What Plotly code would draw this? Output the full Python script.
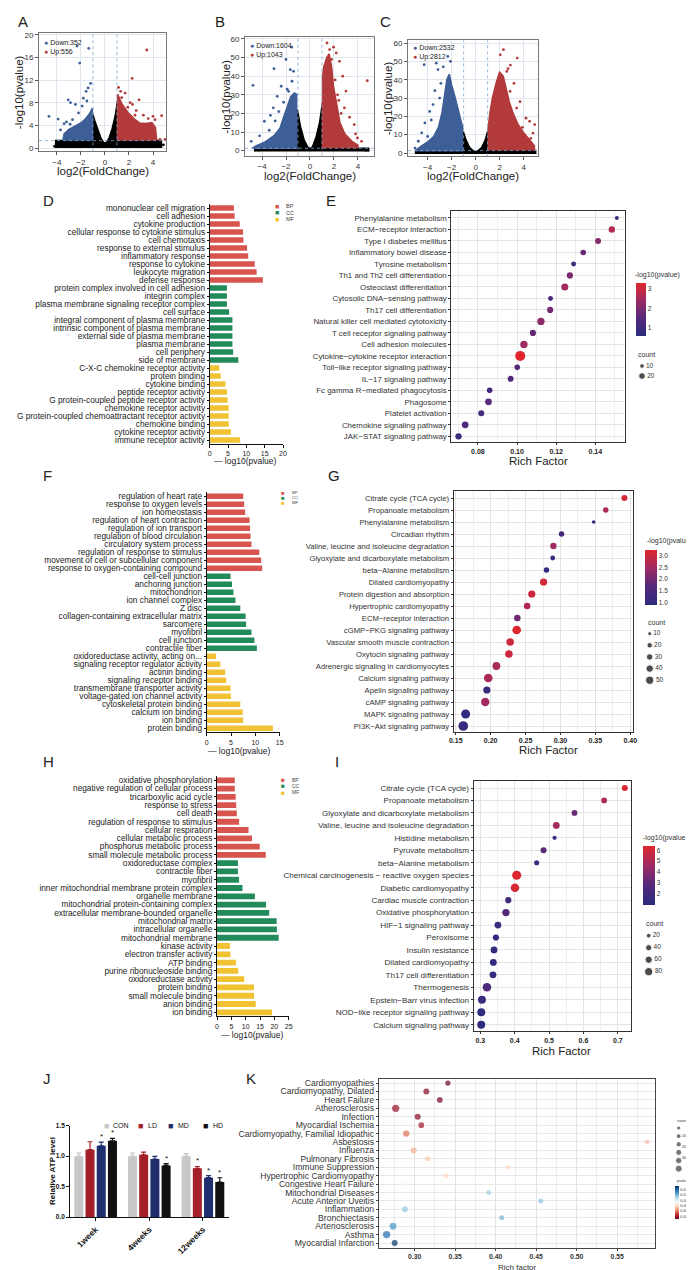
import plotly.graph_objects as go

W, H = 694, 1270
FONT = "Liberation Sans, Arial, Helvetica, sans-serif"
NARROW = "Liberation Sans Narrow, Liberation Sans, Arial, sans-serif"

# ======================= DATA =======================
FC_CUT = 1.0          # |log2FC| threshold
P_CUT_LOG = 1.3       # -log10(0.05)

# ---- Volcano A ----
A_counts = [352, 556]
A_ns_x = [-4.1, -4.1, -1.05, -1.05, -0.85, -0.6, -0.35, -0.1, 0.1, 0.35, 0.6, 0.85, 1.05, 1.05, 4.7, 4.7]
A_ns_y = [0.0, 1.3, 1.3, 6.2, 4.8, 3.2, 1.8, 0.9, 0.9, 1.8, 3.4, 5.6, 8.4, 1.3, 1.3, 0.0]
A_dn_x = [-1.05, -1.05, -1.3, -1.6, -2.0, -2.5, -3.0, -3.4, -3.5]
A_dn_y = [1.3, 7.0, 6.0, 5.2, 4.4, 3.8, 3.3, 2.5, 1.3]
A_up_x = [1.05, 1.05, 1.4, 1.9, 2.4, 2.9, 3.4, 3.9, 4.2, 4.3]
A_up_y = [1.3, 9.5, 7.8, 6.3, 5.2, 4.4, 4.3, 4.5, 3.6, 1.3]
A_pd_x = [-2.32, -1.35, -2.1, -1.2, -1.4, -3.06, -2.87, -4.66, -3.9, -1.57, -2.46, -1.8, -2.2, -3.4,
          -2.7, -3.2, -1.9, -1.5, -3.7, -2.9]
A_pd_y = [18.0, 17.6, 15.0, 11.4, 10.6, 8.5, 8.0, 5.6, 5.1, 10.0, 7.7, 8.8, 6.2, 4.3,
          5.0, 4.6, 7.4, 8.3, 3.2, 4.2]
A_pu_x = [3.48, 2.26, 1.13, 2.84, 2.29, 4.72, 4.17, 4.58, 5.0, 1.68, 1.4, 1.9, 3.2, 2.6,
          3.6, 4.0, 2.1, 1.3, 3.9, 2.5]
A_pu_y = [17.3, 12.3, 10.7, 8.5, 7.7, 5.7, 5.0, 1.5, 1.5, 9.7, 8.9, 7.2, 5.8, 6.6,
          5.2, 5.6, 8.0, 10.0, 3.8, 5.8]
A_pn_x = [4.66, 4.86, -3.9, -4.2]
A_pn_y = [0.57, 0.57, 0.57, 0.3]

# ---- Volcano B ----
B_counts = [1604, 1043]
B_ns_x = [-4.6, -4.6, -1.05, -1.05, -0.8, -0.5, -0.2, 0.0, 0.2, 0.5, 0.8, 1.0, 1.05, 1.05, 4.9, 4.9]
B_ns_y = [-0.5, 1.3, 1.3, 22.0, 13.0, 6.0, 2.0, 1.0, 2.0, 7.0, 15.0, 26.0, 26.0, 1.3, 1.3, -0.5]
B_dn_x = [-1.05, -4.8, -4.5, -3.8, -3.0, -2.5, -2.2, -1.9, -1.6, -1.3, -1.05]
B_dn_y = [1.3, 1.3, 2.5, 4.5, 8.0, 12.0, 18.0, 24.0, 29.0, 31.0, 30.0]
B_up_x = [1.05, 1.05, 1.15, 1.4, 1.6, 1.8, 1.95, 2.2, 2.5, 2.9, 3.5, 4.0, 4.0]
B_up_y = [1.3, 40.0, 45.0, 50.0, 52.0, 45.0, 35.0, 25.0, 15.0, 9.0, 5.0, 3.0, 1.3]
B_pd_x = [-4.75, -1.53, -3.0, -2.0, -1.64, -1.37, -2.4, -2.73, -3.06, -4.9, -3.8, -1.5, -1.78, -3.4,
          -2.9, -2.2, -3.3, -4.2, -2.6, -1.9]
B_pd_y = [35.1, 55.6, 44.0, 49.0, 43.5, 42.6, 34.6, 29.2, 23.0, 5.0, 15.8, 37.3, 31.9, 11.0,
          16.0, 26.0, 19.0, 8.0, 21.0, 33.0]
B_pu_x = [1.42, 1.97, 2.19, 1.64, 2.46, 2.73, 2.87, 3.69, 4.78, 3.96, 3.0, 2.3, 3.3,
          2.6, 2.1, 3.8, 4.3, 2.4, 1.8]
B_pu_y = [57.9, 55.6, 52.5, 54.3, 48.0, 40.0, 23.0, 14.0, 37.6, 6.8, 32.0, 30.0, 18.0,
          20.0, 38.0, 9.0, 5.0, 27.0, 49.0]
B_pn_x = [4.5, 4.7, -4.3]
B_pn_y = [0.5, 0.2, 0.3]

# ---- Volcano C ----
C_counts = [2532, 2812]
C_ns_x = [-5.0, -5.0, -1.05, -1.05, -0.8, -0.5, -0.2, 0.0, 0.2, 0.5, 0.8, 1.05, 1.05, 5.0, 5.0]
C_ns_y = [-0.5, 1.3, 1.3, 12.0, 7.0, 3.0, 1.2, 0.8, 1.2, 3.0, 7.0, 13.0, 1.3, 1.3, -0.5]
C_dn_x = [-1.05, -5.0, -4.6, -4.0, -3.5, -3.1, -2.8, -2.6, -2.4, -2.2, -2.0, -1.7, -1.4, -1.2, -1.05]
C_dn_y = [1.3, 1.3, 3.5, 6.0, 9.0, 14.0, 22.0, 32.0, 40.0, 43.0, 37.0, 30.0, 22.0, 16.0, 13.0]
C_up_x = [1.05, 1.05, 1.2, 1.4, 1.7, 2.0, 2.3, 2.5, 2.8, 3.1, 3.5, 4.0, 4.5, 4.9, 4.9]
C_up_y = [1.3, 14.0, 22.0, 30.0, 38.0, 44.0, 42.0, 36.0, 28.0, 22.0, 16.0, 11.0, 7.0, 4.0, 1.3]
C_pd_x = [-2.32, -3.28, -4.29, -3.14, -4.23, -3.55, -3.83, -4.78, -5.05, -3.0, -2.7, -2.1,
          -3.4, -4.5, -3.7, -2.9, -4.0]
C_pd_y = [52.7, 49.0, 48.2, 45.5, 16.4, 26.4, 22.7, 6.4, 2.7, 30.0, 47.0, 50.0,
          34.0, 11.0, 18.0, 38.0, 9.0]
C_pu_x = [2.32, 2.05, 3.47, 2.6, 2.87, 3.42, 4.5, 4.92, 4.78, 3.96, 2.9, 3.7,
          3.2, 4.2, 2.7, 3.9, 4.6]
C_pu_y = [56.4, 53.6, 51.8, 44.5, 33.6, 24.5, 17.3, 15.5, 10.9, 10.0, 48.0, 28.0,
          38.0, 19.0, 46.0, 14.0, 8.0]

# ---- GO bars D ----
D_bp = ["mononuclear cell migration", "cell adhesion", "cytokine production",
        "cellular response to cytokine stimulus", "cell chemotaxis", "response to external stimulus",
        "inflammatory response", "response to cytokine", "leukocyte migration", "defense response"]
D_bp_v = [6.6, 6.8, 8.2, 9.1, 9.2, 10.2, 10.5, 12.3, 12.8, 14.5]
D_cc = ["protein complex involved in cell adhesion", "integrin complex",
        "plasma membrane signaling receptor complex", "cell surface",
        "integral component of plasma membrane", "intrinsic component of plasma membrane",
        "external side of plasma membrane", "plasma membrane", "cell periphery", "side of membrane"]
D_cc_v = [4.7, 4.7, 4.7, 5.3, 6.2, 6.2, 6.2, 6.2, 6.4, 7.8]
D_mf = ["C-X-C chemokine receptor activity", "protein binding", "cytokine binding",
        "peptide receptor activity", "G protein-coupled peptide receptor activity",
        "chemokine receptor activity", "G protein-coupled chemoattractant receptor activity",
        "chemokine binding", "cytokine receptor activity", "immune receptor activity"]
D_mf_v = [2.6, 3.0, 4.3, 4.7, 4.9, 5.2, 5.2, 5.2, 5.8, 8.3]

# ---- GO bars F ----
F_bp = ["regulation of heart rate", "response to oxygen levels", "ion homeostasis",
        "regulation of heart contraction", "regulation of ion transport",
        "regulation of blood circulation", "circulatory system process",
        "regulation of response to stimulus", "movement of cell or subcellular component",
        "response to oxygen-containing compound"]
F_bp_v = [7.5, 7.7, 7.9, 8.8, 8.9, 9.0, 9.2, 10.8, 11.2, 11.4]
F_cc = ["cell-cell junction", "anchoring junction", "mitochondrion", "ion channel complex", "Z disc",
        "collagen-containing extracellular matrix", "sarcomere", "myofibril", "cell junction",
        "contractile fiber"]
F_cc_v = [4.9, 5.2, 5.5, 5.9, 6.9, 8.0, 8.1, 9.2, 9.8, 10.3]
F_mf = ["oxidoreductase activity, acting on...", "signaling receptor regulator activity",
        "actinin binding", "signaling receptor binding", "transmembrane transporter activity",
        "voltage-gated ion channel activity", "cytoskeletal protein binding", "calcium ion binding",
        "ion binding", "protein binding"]
F_mf_v = [1.9, 2.8, 3.8, 4.0, 4.9, 5.0, 6.9, 7.4, 7.5, 13.6]

# ---- GO bars H ----
H_bp = ["oxidative phosphorylation", "negative regulation of cellular process",
        "tricarboxylic acid cycle", "response to stress", "cell death",
        "regulation of response to stimulus", "cellular respiration", "cellular metabolic process",
        "phosphorus metabolic process", "small molecule metabolic process"]
H_bp_v = [6.2, 6.2, 6.5, 6.7, 6.9, 7.7, 11.0, 12.2, 14.9, 17.0]
H_cc = ["oxidoreductase complex", "contractile fiber", "myofibril",
        "inner mitochondrial membrane protein complex", "organelle membrane",
        "mitochondrial protein-containing complex", "extracellular membrane-bounded organelle",
        "mitochondrial matrix", "intracellular organelle", "mitochondrial membrane"]
H_cc_v = [7.3, 7.3, 7.7, 8.9, 13.2, 17.1, 18.2, 20.8, 20.9, 21.5]
H_mf = ["kinase activity", "electron transfer activity", "ATP binding", "purine ribonucleoside binding",
        "oxidoreductase activity", "protein binding", "small molecule binding", "anion binding",
        "ion binding"]
H_mf_v = [4.5, 4.7, 6.6, 7.4, 9.5, 12.9, 12.9, 13.5, 19.2]

# ---- KEGG bubbles E ----
E_terms = ["Phenylalanine metabolism", "ECM−receptor interaction", "Type I diabetes mellitus",
           "Inflammatory bowel disease", "Tyrosine metabolism", "Th1 and Th2 cell differentiation",
           "Osteoclast differentiation", "Cytosolic DNA−sensing pathway", "Th17 cell differentiation",
           "Natural killer cell mediated cytotoxicity", "T cell receptor signaling pathway",
           "Cell adhesion molecules", "Cytokine−cytokine receptor interaction",
           "Toll−like receptor signaling pathway", "IL−17 signaling pathway",
           "Fc gamma R−mediated phagocytosis", "Phagosome", "Platelet activation",
           "Chemokine signaling pathway", "JAK−STAT signaling pathway"]
E_rich = [0.151, 0.1484, 0.1414, 0.1338, 0.1289, 0.127, 0.1244, 0.1171, 0.1169, 0.1122,
          0.1081, 0.1035, 0.1016, 0.1001, 0.0967, 0.086, 0.0854, 0.0817, 0.0735, 0.0701]
E_count = [7, 18, 16, 14, 11, 17, 22, 11, 17, 24, 17, 24, 44, 14, 16, 14, 20, 16, 20, 18]
E_logp = [0.9, 2.7, 2.1, 1.7, 1.1, 2.0, 2.5, 1.3, 1.9, 2.2, 1.7, 2.4, 3.3, 1.5, 1.4, 1.1, 1.6, 1.1, 1.4, 1.0]
E_leg = [10, 20]

# ---- KEGG bubbles G ----
G_terms = ["Citrate cycle (TCA cycle)", "Propanoate metabolism", "Phenylalanine metabolism",
           "Circadian rhythm", "Valine, leucine and isoleucine degradation",
           "Glyoxylate and dicarboxylate metabolism", "beta−Alanine metabolism",
           "Dilated cardiomyopathy", "Protein digestion and absorption", "Hypertrophic cardiomyopathy",
           "ECM−receptor interaction", "cGMP−PKG signaling pathway", "Vascular smooth muscle contraction",
           "Oxytocin signaling pathway", "Adrenergic signaling in cardiomyocytes",
           "Calcium signaling pathway", "Apelin signaling pathway", "cAMP signaling pathway",
           "MAPK signaling pathway", "PI3K−Akt signaling pathway"]
G_rich = [0.3917, 0.365, 0.3476, 0.3016, 0.2899, 0.2889, 0.28, 0.2758, 0.2589, 0.2523,
          0.2382, 0.2373, 0.2279, 0.2261, 0.2082, 0.1965, 0.1945, 0.1922, 0.1641, 0.1607]
G_count = [25, 20, 8, 20, 28, 15, 20, 37, 37, 30, 30, 55, 40, 40, 44, 55, 37, 51, 59, 68]
G_logp = [3.1, 2.6, 1.0, 1.4, 2.5, 1.1, 1.05, 3.1, 3.0, 2.7, 2.0, 3.2, 3.0, 3.0, 2.6, 2.6, 1.2, 2.5, 1.0, 1.1]
G_leg = [10, 20, 30, 40, 50]

# ---- KEGG bubbles I ----
I_terms = ["Citrate cycle (TCA cycle)", "Propanoate metabolism", "Glyoxylate and dicarboxylate metabolism",
           "Valine, leucine and isoleucine degradation", "Histidine metabolism", "Pyruvate metabolism",
           "beta−Alanine metabolism", "Chemical carcinogenesis − reactive oxygen species",
           "Diabetic cardiomyopathy", "Cardiac muscle contraction", "Oxidative phosphorylation",
           "HIF−1 signaling pathway", "Peroxisome", "Insulin resistance", "Dilated cardiomyopathy",
           "Th17 cell differentiation", "Thermogenesis", "Epstein−Barr virus infection",
           "NOD−like receptor signaling pathway", "Calcium signaling pathway"]
I_rich = [0.72, 0.66, 0.574, 0.521, 0.516, 0.484, 0.464, 0.406, 0.401, 0.3815,
          0.3747, 0.3514, 0.3456, 0.34, 0.338, 0.337, 0.3195, 0.305, 0.303, 0.303]
I_count = [37, 33, 33, 50, 16, 37, 25, 99, 85, 40, 61, 50, 40, 50, 50, 50, 85, 73, 73, 73]
I_logp = [6.2, 5.0, 3.3, 4.7, 1.8, 3.0, 1.7, 6.3, 6.1, 1.8, 2.8, 1.6, 1.4, 1.3, 1.3, 1.3, 2.5, 1.6, 1.2, 1.1]
I_leg = [20, 40, 60, 80]

# ---- J ATP ----
J_groups = ["1week", "4weeks", "12weeks"]
J_names = ["CON", "LD", "MD", "HD"]
J_vals = {"CON": [1.0, 1.0, 1.0], "LD": [1.106, 1.023, 0.80],
          "MD": [1.171, 0.952, 0.646], "HD": [1.253, 0.848, 0.575]}
J_err = {"CON": [0.05, 0.05, 0.04], "LD": [0.13, 0.044, 0.03],
         "MD": [0.06, 0.044, 0.035], "HD": [0.04, 0.03, 0.07]}
J_sig = {"CON": [0, 0, 0], "LD": [0, 0, 1], "MD": [1, 0, 1], "HD": [1, 1, 1]}

# ---- K disease enrichment ----
K_terms = ["Cardiomyopathies", "Cardiomyopathy, Dilated", "Heart Failure", "Atherosclerosis", "Infection",
           "Myocardial Ischemia", "Cardiomyopathy, Familial Idiopathic", "Asbestosis", "Influenza",
           "Pulmonary Fibrosis", "Immune Suppression", "Hypertrophic Cardiomyopathy",
           "Congestive Heart Failure", "Mitochondrial Diseases", "Acute Anterior Uveitis",
           "Inflammation", "Bronchiectasis", "Arteriosclerosis", "Asthma", "Myocardial Infarction"]
K_rich = [0.341, 0.3144, 0.331, 0.2766, 0.3037, 0.3082, 0.2896, 0.5868, 0.2988, 0.316,
          0.4148, 0.3382, 0.286, 0.3913, 0.4556, 0.288, 0.4074, 0.2732, 0.2654, 0.2753]
K_count = [100, 164, 135, 324, 164, 135, 196, 58, 164, 100, 58, 77, 135, 77, 77, 164, 77, 243, 324, 164]
K_p = [0.0012, 0.0016, 0.0014, 0.0019, 0.0016, 0.0021, 0.0038, 0.0054, 0.0051, 0.0057,
       0.0059, 0.0060, 0.0073, 0.0094, 0.0098, 0.0097, 0.0102, 0.0110, 0.0121, 0.0134]
K_leg = [25, 60, 100, 150, 200, 280]
K_leg_lab = ["100", "200", "300"]
K_leg_lab_pos = [1.0, 2.37, 3.68]

# ======================= STYLE / HELPERS =======================
C_BLUE, C_RED = "#3D5E96", "#B23A3A"
GO_COL = {"BP": "#D8544F", "CC": "#238A5C", "MF": "#F1C232"}
J_COL = {"CON": "#C8C8C8", "LD": "#A3202A", "MD": "#1F2F6E", "HD": "#111111"}
BUB_SCALE = [[0, "#2B2C7F"], [0.35, "#56297A"], [0.65, "#9A2A66"], [1, "#E0262D"]]
RDBU = ["#67001F", "#B2182B", "#D6604D", "#F4A582", "#FDDBC7", "#F7F7F7",
        "#D1E5F0", "#92C5DE", "#4393C3", "#2166AC", "#053061"]
K_SCALE = [[i / 10, c] for i, c in enumerate(RDBU)]


def xdom(a, b):
    return [a / W, b / W]


def ydom(top, bottom):
    return [1 - bottom / H, 1 - top / H]


def axref(i):
    return ("x" if i == 1 else f"x{i}"), ("y" if i == 1 else f"y{i}")


fig = go.Figure()
layout = dict(width=W, height=H, template="none",
              margin=dict(l=0, r=0, t=0, b=0, autoexpand=False),
              paper_bgcolor="white", plot_bgcolor="white", showlegend=False,
              barmode="group", bargap=0.164, bargroupgap=0.196,
              font=dict(family=FONT, size=8, color="#222"))
annotations = []
shapes = []


def add_axes(i, xa, ya):
    xr, yr = axref(i)
    xa = dict(xa, anchor=yr, automargin=False)
    ya = dict(ya, anchor=xr, automargin=False)
    layout["xaxis" if i == 1 else f"xaxis{i}"] = xa
    layout["yaxis" if i == 1 else f"yaxis{i}"] = ya


def ann(text, x, y, size=8, color="#222", xanchor="center", yanchor="middle",
        angle=0, weight="normal", family=FONT):
    annotations.append(dict(text=text, x=x / W, y=1 - y / H, xref="paper", yref="paper",
                            showarrow=False, xanchor=xanchor, yanchor=yanchor, textangle=angle,
                            font=dict(size=size, color=color, family=family, weight=weight)))


# ======================= VOLCANOS =======================
def volcano(i, box, xr, yr, ytick, lab_xy, counts, ns, dn, up, pd, pu, pn, leg_y):
    xa, ya = axref(i)
    for (px, py), col in ((ns, "#000000"), (dn, C_BLUE), (up, C_RED)):
        fig.add_trace(go.Scatter(x=px, y=py, mode="lines", fill="toself", fillcolor=col,
                                 line=dict(color=col, width=1.6), hoverinfo="skip",
                                 xaxis=xa, yaxis=ya))
    for (px, py), col in ((pn, "#000000"), (pd, C_BLUE), (pu, C_RED)):
        fig.add_trace(go.Scatter(x=px, y=py, mode="markers", marker=dict(size=2.8, color=col),
                                 hoverinfo="skip", xaxis=xa, yaxis=ya))
    l, r, t, b = box
    common = dict(showline=True, mirror=True, linecolor="#777", linewidth=1, ticks="outside",
                  ticklen=3, tickcolor="#555", showgrid=True, gridcolor="#E1E6EE", gridwidth=0.8,
                  zeroline=False, tickfont=dict(size=8, family=NARROW, color="#333"))
    add_axes(i, dict(common, domain=xdom(l, r), range=xr, tickvals=[-4, -2, 0, 2, 4]),
             dict(common, domain=ydom(t, b), range=yr, tickvals=ytick))
    for xv in (-FC_CUT, FC_CUT):
        shapes.append(dict(type="line", xref=xa, yref=f"{ya} domain", x0=xv, x1=xv, y0=0, y1=1,
                           line=dict(color="#7FA6CF", width=0.8, dash="dot"), layer="above"))
    shapes.append(dict(type="line", xref=f"{xa} domain", yref=ya, x0=0, x1=1, y0=P_CUT_LOG,
                       y1=P_CUT_LOG, line=dict(color="#7FA6CF", width=0.8, dash="dot"), layer="above"))
    ann(lab_xy[0], lab_xy[1], lab_xy[2], size=15, xanchor="left")
    ann("-log10(pvalue)", l - 20, (t + b) / 2, size=11.5, angle=-90, family=NARROW)
    ann("log2(FoldChange)", (l + r) / 2, b + 20, size=11.5, family=NARROW)
    ann(f"<span style='color:{C_BLUE}'>●</span> Down:{counts[0]}", l + 3, leg_y[0], size=7,
        xanchor="left", family=NARROW)
    ann(f"<span style='color:{C_RED}'>●</span> Up:{counts[1]}", l + 3, leg_y[1], size=7,
        xanchor="left", family=NARROW)


volcano(1, (31, 158, 25, 143.3), [-5.49, 5.08], [-0.58, 20.3], [0, 4, 8, 12, 16, 20],
        ("A", 8, 14), A_counts, (A_ns_x, A_ns_y), (A_dn_x, A_dn_y), (A_up_x, A_up_y),
        (A_pd_x, A_pd_y), (A_pu_x, A_pu_y), (A_pn_x, A_pn_y), (34.3, 44))
volcano(2, (237, 366, 29.3, 147.7), [-5.42, 5.34], [-2.7, 60.9], [0, 10, 20, 30, 40, 50, 60],
        ("B", 205, 14), B_counts, (B_ns_x, B_ns_y), (B_dn_x, B_dn_y), (B_up_x, B_up_y),
        (B_pd_x, B_pd_y), (B_pu_x, B_pu_y), (B_pn_x, B_pn_y), (37.7, 46.7))
volcano(3, (400, 530, 32.3, 148.3), [-5.64, 5.2], [-1.8, 61.5], [0, 10, 20, 30, 40, 50, 60],
        ("C", 370, 14), C_counts, (C_ns_x, C_ns_y), (C_dn_x, C_dn_y), (C_up_x, C_up_y),
        (C_pd_x, C_pd_y), (C_pu_x, C_pu_y), ([], []), (39, 48.7))


# ======================= GO BARS =======================
def go_bars(i, groups, xdomain, ytop, spacing, xrange, xticks, lab_xy, leg, title_xy):
    xa, ya = axref(i)
    labels, vals, cols = [], [], []
    for key, labs, vs in groups:
        labels += labs
        vals += vs
        cols += [GO_COL[key]] * len(labs)
    n = len(labels)
    fig.add_trace(go.Bar(x=vals, y=labels, orientation="h", marker=dict(color=cols, line=dict(width=0)),
                         width=0.7, xaxis=xa, yaxis=ya, hoverinfo="skip"))
    top = ytop - spacing / 2
    bottom = ytop + spacing * (n - 1) + spacing / 2
    add_axes(i,
             dict(domain=xdomain, range=xrange, tickvals=xticks, showline=True, linecolor="#111",
                  linewidth=1, ticks="outside", ticklen=3, tickcolor="#111", showgrid=False,
                  zeroline=False, tickfont=dict(size=7, color="#222")),
             dict(domain=ydom(top, bottom), type="category", categoryorder="array",
                  categoryarray=labels, tickmode="array", tickvals=labels, ticktext=labels,
                  range=[n - 0.5, -0.5], showline=True, linecolor="#111",
                  linewidth=1, ticks="outside", ticklen=2, tickcolor="#111", showgrid=False,
                  tickfont=dict(size=8.3, color="#222")))
    ann(lab_xy[0], lab_xy[1], lab_xy[2], size=15, xanchor="left")
    lx, ly, dy, fs = leg
    for k, key in enumerate(["BP", "CC", "MF"]):
        ann(f"<span style='color:{GO_COL[key]}'>■</span>", lx, ly + k * dy, size=fs + 1.5,
            xanchor="right")
        ann(key, lx + 2.5, ly + k * dy, size=fs, xanchor="left", color="#444")
    ann("— log10(pvalue)", title_xy[0], title_xy[1], size=8.5)


go_bars(4, [("BP", D_bp, D_bp_v), ("CC", D_cc, D_cc_v), ("MF", D_mf, D_mf_v)],
        xdom(201.7, 275), 200, 8.0, [0, 20], [0, 5, 10, 15, 20], ("D", 33, 192),
        (273, 198.3, 6.4, 5.5), (237, 453))
go_bars(6, [("BP", F_bp, F_bp_v), ("CC", F_cc, F_cc_v), ("MF", F_mf, F_mf_v)],
        xdom(198.7, 271.7), 488.3, 8.0, [0, 15], [0, 5, 10, 15], ("F", 33, 468),
        (279, 484.8, 4.9, 4.3), (231, 743))
go_bars(8, [("BP", H_bp, H_bp_v), ("CC", H_cc, H_cc_v), ("MF", H_mf, H_mf_v)],
        xdom(209, 280.7), 772.3, 8.286, [0, 25], [0, 5, 10, 15, 20, 25], ("H", 33, 753),
        (279, 771.7, 6.2, 5), (245, 1027))


# ======================= BUBBLES =======================
def bubble(i, terms, rich, count, cval, sizef, xdomain, box_tb, yrange, xrange, dtick, mdtick,
           tfmt, cscale, cmin, cmax, cb, leg_i, leg_vals, leg_dom, leg_range, leg_x,
           lab_xy, xtitle_xy, cbt_xy, cnt_xy, yfont=7.8, xfont=7):
    xa, ya = axref(i)
    fig.add_trace(go.Scatter(x=rich, y=terms, mode="markers", xaxis=xa, yaxis=ya, hoverinfo="skip",
                             marker=dict(size=[sizef(c) for c in count], color=cval, colorscale=cscale,
                                         cmin=cmin, cmax=cmax, showscale=True, colorbar=cb,
                                         line=dict(width=0), opacity=1)))
    add_axes(i,
             dict(domain=xdomain, range=xrange, tick0=0, dtick=dtick, tickformat=tfmt,
                  showline=True, mirror=True, linecolor="#333", linewidth=1, ticks="outside",
                  ticklen=2, tickcolor="#333", showgrid=True, gridcolor="#E4E4E4", gridwidth=1.3,
                  zeroline=False, tickfont=dict(size=xfont, color="#222", weight="bold"),
                  minor=dict(tick0=0, dtick=mdtick, showgrid=True, gridcolor="#EFEFEF", gridwidth=0.8)),
             dict(domain=ydom(*box_tb), type="category", categoryorder="array", categoryarray=terms,
                  tickmode="array", tickvals=terms, ticktext=terms,
                  range=yrange, showline=True, mirror=True, linecolor="#333", linewidth=1,
                  ticks="outside", ticklen=2, tickcolor="#333", showgrid=True, gridcolor="#E4E4E4",
                  gridwidth=1.3, tickfont=dict(size=yfont, color="#333")))
    # size legend
    lxa, lya = axref(leg_i)
    fig.add_trace(go.Scatter(x=[0] * len(leg_vals), y=leg_vals, mode="markers+text",
                             text=[str(v) for v in leg_vals], textposition="middle right",
                             textfont=dict(size=6.5, color="#333"), hoverinfo="skip",
                             cliponaxis=False,
                             marker=dict(size=[sizef(v) for v in leg_vals], color="black"),
                             xaxis=lxa, yaxis=lya))
    add_axes(leg_i, dict(domain=xdom(leg_x - 6, leg_x + 6), range=[-1, 1], visible=False),
             dict(domain=ydom(*leg_dom), range=leg_range, visible=False))
    ann(lab_xy[0], lab_xy[1], lab_xy[2], size=15, xanchor="left")
    ann("Rich Factor", xtitle_xy[0], xtitle_xy[1], size=11.5)
    ann("-log10(pvalue)", cbt_xy[0], cbt_xy[1], size=7, xanchor="left", color="#333")
    ann("count", cnt_xy[0], cnt_xy[1], size=7, xanchor="left", color="#333")


def cbar(x0, top, length, thick, tickvals, fmt=None, size=6.5):
    d = dict(x=x0 / W, xanchor="left", y=1 - top / H, yanchor="top", len=length, lenmode="pixels",
             thickness=thick, thicknessmode="pixels", xpad=0, ypad=0, outlinewidth=0,
             tickvals=tickvals, ticks="", tickfont=dict(size=size, color="#333"), title=dict(text=""))
    if fmt:
        d["tickformat"] = fmt
    return d


bubble(5, E_terms, E_rich, E_count, E_logp, lambda c: 1.527 * c ** 0.5 - 0.13,
       xdom(443.3, 616.7), (203.3, 434.3), [19.52, -0.58], [0.0664, 0.155], 0.02, 0.01, ".2f",
       BUB_SCALE, 0.6, 3.3, cbar(628, 275, 53, 10, [1, 2, 3]),
       12, E_leg, (348, 378), [30, 0], 634, ("E", 316, 192), (530, 453), (625, 267), (628, 346),
       yfont=7.9)
bubble(7, G_terms, G_rich, G_count, G_logp, lambda c: 0.52 + 1.1 * c ** 0.5,
       xdom(445.7, 625), (482.7, 724), [19.5, -0.61], [0.147, 0.404], 0.05, 0.025, ".2f",
       BUB_SCALE, 0.92, 3.24, cbar(636.7, 541.7, 55, 11.6, [1.0, 1.5, 2.0, 2.5, 3.0], ".1f"),
       13, G_leg, (614, 683.9), [60, 0], 641.7, ("G", 318, 468), (540, 741.5), (636.7, 533.3),
       (638, 614.7), yfont=7.7)
bubble(9, I_terms, I_rich, I_count, I_logp, lambda c: 1.1 + 0.805 * c ** 0.5,
       xdom(465.7, 623.3), (773.3, 1023.3), [19.53, -0.54], [0.281, 0.739], 0.1, 0.05, ".1f",
       BUB_SCALE, 0.97, 6.36, cbar(635, 838.3, 59, 11.7, [2, 3, 4, 5, 6]),
       14, I_leg, (915.7, 975.7), [100, 0], 640.7, ("I", 325, 753), (553, 1043), (633.3, 830),
       (636, 915.7), yfont=8.1)

# ======================= J =======================
for k, name in enumerate(J_names):
    fig.add_trace(go.Bar(x=J_groups, y=J_vals[name], name=name, xaxis="x10", yaxis="y10",
                         marker=dict(color=J_COL[name], line=dict(width=0)), hoverinfo="skip",
                         error_y=dict(type="data", array=J_err[name], arrayminus=[0] * 3,
                                      symmetric=False, color=J_COL[name], thickness=1.2, width=2.5)))
    for g, grp in enumerate(J_groups):
        if J_sig[name][g]:
            annotations.append(dict(text="*", x=grp, y=J_vals[name][g] + J_err[name][g], xref="x10",
                                    yref="y10", xshift=(k - 1.5) * 11.2, yshift=-1, showarrow=False,
                                    yanchor="bottom", font=dict(size=8, color="#111", family=FONT)))
add_axes(10,
         dict(domain=xdom(62.3, 220.7), type="category", range=[-0.472, 2.48], showline=True,
              linecolor="#111", linewidth=1.2, ticks="outside", ticklen=3, tickcolor="#111",
              tickangle=-45, showgrid=False, tickfont=dict(size=8.5, color="#111", weight="bold")),
         dict(domain=ydom(1117.7, 1209), range=[0, 1.5], tickvals=[0, 0.5, 1.0, 1.5], tickformat=".1f",
              showline=True, linecolor="#111", linewidth=1.2, ticks="outside", ticklen=3,
              tickcolor="#111", showgrid=False, zeroline=False,
              tickfont=dict(size=6.5, color="#111", weight="bold")))
ann("J", 33, 1070, size=15, xanchor="left")
ann("K", 236, 1070, size=15, xanchor="left")
ann("Relative ATP level", 44, 1163, size=8, angle=-90, weight="bold", color="#111")
for name, sx in zip(J_names, [98.3, 132.7, 162.7, 197.7]):
    ann(f"<span style='color:{J_COL[name]}'>■</span>", sx, 1117.5, size=9)
    ann(name, sx + 5, 1117.5, size=7, xanchor="left", color="#111")

# ======================= K =======================
fig.add_trace(go.Scatter(x=K_rich, y=K_terms, mode="markers", xaxis="x11", yaxis="y11", hoverinfo="skip",
                         marker=dict(size=[2.8 + 0.25 * c ** 0.5 for c in K_count], color=K_p,
                                     colorscale=K_SCALE, cmin=0.0011, cmax=0.0135, showscale=True,
                                     line=dict(width=0),
                                     colorbar=cbar(666.7, 1177.7, 33, 4,
                                                   [0.002, 0.004, 0.006, 0.008, 0.010, 0.012],
                                                   ".3f", size=3.8))))
add_axes(11,
         dict(domain=xdom(370.7, 647.3), range=[0.2556, 0.597], tick0=0, dtick=0.05, tickformat=".2f",
              showline=True, mirror=True, linecolor="#444", linewidth=1, ticks="outside", ticklen=2,
              tickcolor="#444", showgrid=True, gridcolor="#E3E3E3", gridwidth=0.9, zeroline=False,
              tickfont=dict(size=6.8, color="#333", weight="bold"),
              minor=dict(tick0=0, dtick=0.025, showgrid=True, gridcolor="#EDEDED", gridwidth=0.6)),
         dict(domain=ydom(1071, 1240), type="category", categoryorder="array", categoryarray=K_terms,
              tickmode="array", tickvals=K_terms, ticktext=K_terms,
              range=[19.59, -0.48], showline=True, mirror=True, linecolor="#444", linewidth=1,
              ticks="outside", ticklen=2, tickcolor="#444", showgrid=True, gridcolor="#E8E8E8",
              gridwidth=0.8, tickfont=dict(size=8.6, color="#333")))
ann("Rich factor", 509, 1259.3, size=8, color="#333")
# K size legend
fig.add_trace(go.Scatter(x=[6.7] * len(K_leg), y=list(range(len(K_leg))), mode="markers",
                         marker=dict(size=[2.8 + 0.25 * c ** 0.5 for c in K_leg], color="#3a3a3a"),
                         hoverinfo="skip", xaxis="x15", yaxis="y15", cliponaxis=False))
fig.add_trace(go.Scatter(x=[10] * len(K_leg_lab), y=K_leg_lab_pos, mode="text", text=K_leg_lab,
                         textposition="middle right", textfont=dict(size=3.8, color="#333"),
                         hoverinfo="skip", xaxis="x15", yaxis="y15", cliponaxis=False))
add_axes(15, dict(domain=xdom(664, 690), range=[0, 26], visible=False),
         dict(domain=ydom(1111.9, 1168.8), range=[6, -1], visible=False))
ann("count", 667, 1113, size=3.8, xanchor="left", color="#333")
ann("pvalue", 666.7, 1173.3, size=3.8, xanchor="left", color="#333")

layout["annotations"] = annotations
layout["shapes"] = shapes
fig.update_layout(**layout)
fig.write_html("out.html")
